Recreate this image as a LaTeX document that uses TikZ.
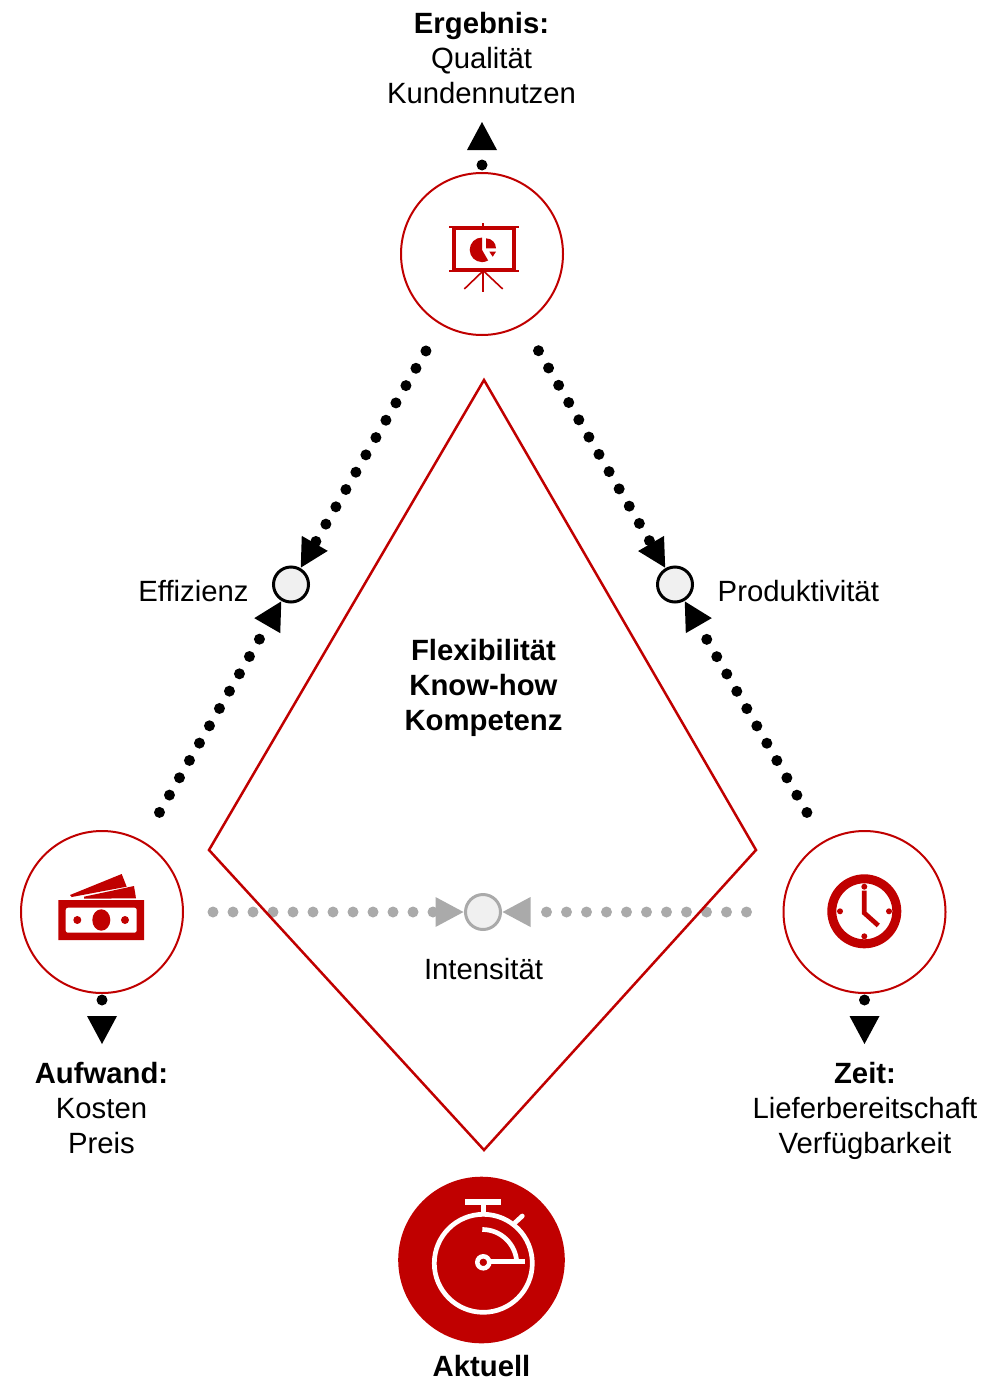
\documentclass[tikz,border=0pt]{standalone}
\usepackage{fontspec}
\setmainfont{Liberation Sans}
\usetikzlibrary{arrows.meta}
\definecolor{dred}{HTML}{C00000}
\definecolor{dgray}{HTML}{AAAAAA}
\definecolor{lfill}{HTML}{F0F0F0}
\tikzset{
  lbl/.style={align=center,inner sep=0pt,font=\fontsize{29.3}{35}\selectfont},
  bigc/.style={circle,draw=dred,line width=2pt,minimum size=162pt,inner sep=0pt,outer sep=0pt},
  smallc/.style={circle,draw=black,fill=lfill,line width=3pt,minimum size=35pt,inner sep=0pt,outer sep=2pt},
  smallg/.style={smallc,draw=dgray},
  dots/.style={line width=11pt,line cap=round,dash pattern=on 0pt off 20pt},
  tip/.style={-{Triangle[length=28pt,width=30pt,line width=0pt]}},
  blackconn/.style={dots,tip,draw=black},
  grayconn/.style={dots,tip,draw=dgray},
}
\begin{document}
\begin{tikzpicture}[x=1pt,y=-1pt]
\useasboundingbox (0,0) rectangle (987,1381);
% main nodes
\node[bigc] (top) at (482,254) {};
\node[bigc] (left) at (102,912) {};
\node[bigc] (right) at (864.5,912) {};
\node[smallc] (eff) at (291,584.5) {};
\node[smallc] (prod) at (675,584.5) {};
\node[smallg] (int) at (483,912) {};
\coordinate (topend) at (482,122);
\coordinate (leftend) at (102,1044);
\coordinate (rightend) at (864.5,1044);
% connectors
\draw[blackconn,shorten <=31pt] (top) -- (eff);
\draw[blackconn,shorten <=31pt] (top) -- (prod);
\draw[blackconn,shorten <=34pt] (left) -- (eff);
\draw[blackconn,shorten <=34pt] (right) -- (prod);
\draw[grayconn,shorten <=30pt] (left) -- (int);
\draw[grayconn,shorten <=37pt] (right) -- (int);
\draw[blackconn,shorten <=8pt] (top) -- (topend);
\draw[blackconn,shorten <=7pt] (left) -- (leftend);
\draw[blackconn,shorten <=7pt] (right) -- (rightend);
% kite
\draw[dred,line width=2.5pt,line join=miter] (484,380) -- (756,850) -- (484,1150) -- (209,850) -- cycle;
% labels
\node[lbl] (t1) at (481.5,58) {\textbf{Ergebnis:}\\Qualität\\Kundennutzen};
\node[lbl] (t2) at (193.5,591) {Effizienz};
\node[lbl,anchor=west] (t3) at (717.5,591) {Produktivität};
\node[lbl] (t4) at (483.5,688) {\textbf{Flexibilität}\\\textbf{Know-how}\\\textbf{Kompetenz}};
\node[lbl] (t5) at (483.5,969) {Intensität};
\node[lbl] (t6) at (101.5,1108) {\textbf{Aufwand:}\\Kosten\\Preis};
\node[lbl] (t7) at (865,1111) {\textbf{Zeit:}\\Lieferbereitschaft\\Verfügbarkeit};
\node[lbl] (t8) at (481.5,1366) {\textbf{Aktuell}};
% presentation icon
\begin{scope}[dred]
\draw[line width=2pt] (449,227.3) -- (519,227.3);
\draw[line width=2pt] (449,270.7) -- (519,270.7);
\draw[line width=2pt] (483.3,223) -- (483.3,227);
\draw[line width=4pt] (454.3,228) rectangle (513.7,269.5);
\draw[line width=2pt] (483.3,270.7) -- (483.3,291.7);
\draw[line width=1.6pt] (483.3,270.7) -- (464.3,289);
\draw[line width=1.6pt] (483.3,270.7) -- (502.7,289);
\fill (482,237.5) arc[start angle=-90,end angle=-300,radius=12.3] -- (482,249.8) -- cycle;
\fill (486,238.3) -- (486,248.3) -- (496,248.3) arc[start angle=0,end angle=-90,radius=10] -- cycle;
\fill (489.3,251.7) -- (496,251.7) -- (492.7,256.7) -- cycle;
\end{scope}
% money icon
\begin{scope}[dred]
\fill[even odd rule] (58.3,900) rectangle (144,940)
  [rounded corners=2pt] (65.7,907.7) rectangle (136.7,932.7);
\fill (101.3,920) ellipse[x radius=9,y radius=10.7];
\fill (77.3,920) circle[radius=4];
\fill (125,920) circle[radius=4];
\fill (70,895) -- (121.7,874) -- (126.7,886.7) -- (71.7,897) -- cycle;
\fill (84,896.7) -- (134,886) -- (136,898.3) -- (84,898.7) -- cycle;
\end{scope}
% clock icon
\begin{scope}[dred]
\draw[line width=9pt] (864.3,911.3) circle[radius=32.5];
\fill (864.3,886.7) circle[radius=3];
\fill (840,911.3) circle[radius=3];
\fill (889,911.3) circle[radius=3];
\fill (864.3,936.3) circle[radius=3];
\draw[line width=4.7pt,line join=miter] (864.3,890.7) -- (864.3,913) -- (878.3,925.5);
\end{scope}
% stopwatch icon
\fill[dred] (481.5,1260) circle[radius=83.3];
\begin{scope}[white]
\draw[line width=4.7pt] (483.3,1263.3) circle[radius=49];
\fill (465.3,1199.3) rectangle (501,1204.7);
\draw[line width=4.7pt] (483.3,1204) -- (483.3,1215);
\draw[line width=4.7pt,line cap=round] (515,1222.7) -- (522.3,1216);
\draw[line width=4.7pt] (482.3,1229.5) arc[start angle=-90,end angle=-2,radius=34.5];
\draw[line width=4.5pt] (483.3,1262.3) circle[radius=6];
\draw[line width=4.7pt] (489,1261.7) -- (525.3,1261.7);
\end{scope}
\end{tikzpicture}
\end{document}
